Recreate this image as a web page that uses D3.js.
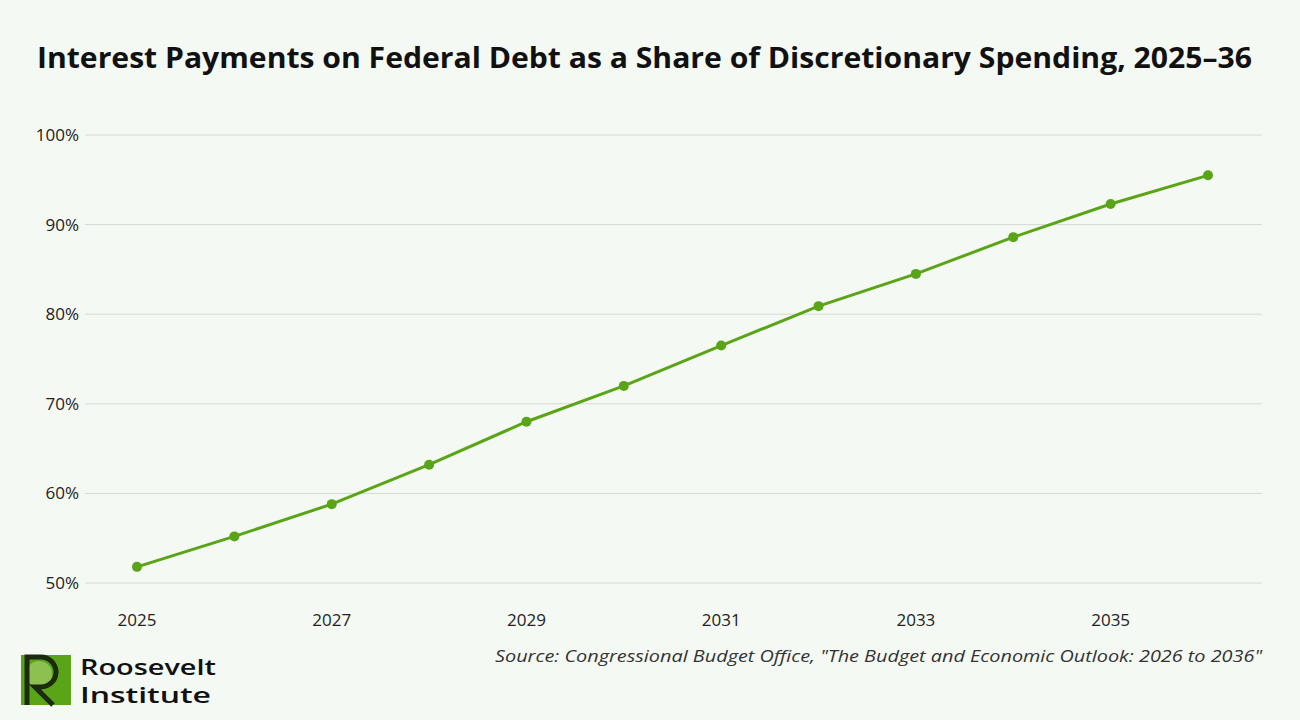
<!DOCTYPE html>
<html>
<head>
<meta charset="utf-8">
<script src="https://d3js.org/d3.v7.min.js"></script>
<style>
  body { margin: 0; background: #f5f9f3; font-family: "Open Sans", Lato, sans-serif; }
</style>
</head>
<body>
<div id="chart"></div>
<script>
const years = [2025, 2026, 2027, 2028, 2029, 2030, 2031, 2032, 2033, 2034, 2035, 2036];
const shares = [51.8, 55.2, 58.8, 63.2, 68.0, 72.0, 76.5, 80.9, 84.5, 88.6, 92.3, 95.5];
const yTicks = [50, 60, 70, 80, 90, 100];
const xTicks = [2025, 2027, 2029, 2031, 2033, 2035];

const width = 1300, height = 720;
const green = "#5aa418";

const svg = d3.create("svg").attr("width", width).attr("height", height)
  .style("font-family", "'Open Sans', Lato, sans-serif");
svg.append("rect").attr("width", width).attr("height", height).attr("fill", "#f5f9f3");

// title
svg.append("text")
  .attr("x", 37).attr("y", 68)
  .attr("textLength", 1215).attr("lengthAdjust", "spacingAndGlyphs")
  .attr("font-size", 28).attr("font-weight", "bold").attr("fill", "#111")
  .text("Interest Payments on Federal Debt as a Share of Discretionary Spending, 2025\u201336");

const x = d3.scaleLinear().domain([2025, 2036]).range([137, 1208]);
const y = d3.scaleLinear().domain([50, 100]).range([583, 135]);

// gridlines
svg.append("g").selectAll("line").data(yTicks).join("line")
  .attr("x1", 85).attr("x2", 1262)
  .attr("y1", d => y(d)).attr("y2", d => y(d))
  .attr("stroke", "#d6d9d4").attr("stroke-width", 1);

// y axis labels
svg.append("g").selectAll("text").data(yTicks).join("text")
  .attr("x", 79).attr("y", d => y(d) + 6)
  .attr("text-anchor", "end").attr("font-size", 17).attr("fill", "#222")
  .text(d => d + "%");

// x axis labels
svg.append("g").selectAll("text").data(xTicks).join("text")
  .attr("x", d => x(d)).attr("y", 626)
  .attr("text-anchor", "middle").attr("font-size", 17).attr("fill", "#222")
  .text(d => d);

const data = years.map((yr, i) => ({ yr, v: shares[i] }));

svg.append("path").datum(data)
  .attr("fill", "none").attr("stroke", green).attr("stroke-width", 3)
  .attr("d", d3.line().x(d => x(d.yr)).y(d => y(d.v)));

svg.append("g").selectAll("circle").data(data).join("circle")
  .attr("cx", d => x(d.yr)).attr("cy", d => y(d.v))
  .attr("r", 5).attr("fill", green);

// source
svg.append("text")
  .attr("x", 495).attr("y", 662)
  .attr("textLength", 767).attr("lengthAdjust", "spacingAndGlyphs")
  .attr("font-size", 16).attr("font-style", "italic").attr("fill", "#333")
  .text("Source: Congressional Budget Office, \"The Budget and Economic Outlook: 2026 to 2036\"");

// logo
const logo = svg.append("g").attr("transform", "translate(21,655)");
logo.append("rect").attr("width", 50).attr("height", 50).attr("fill", "#5aa418");
logo.append("circle").attr("cx", 18).attr("cy", 19).attr("r", 13).attr("fill", "#8cc151");
logo.append("path")
  .attr("d", "M6,50 V2 H20 A14,14 0 0 1 20,32 H14 L32,50")
  .attr("fill", "none").attr("stroke", "#1c2b10").attr("stroke-width", 5);
logo.append("text").attr("x", 59).attr("y", 20)
  .attr("textLength", 136).attr("lengthAdjust", "spacingAndGlyphs")
  .attr("font-size", 22).attr("font-weight", 600).attr("fill", "#111").text("Roosevelt");
logo.append("text").attr("x", 59).attr("y", 48)
  .attr("textLength", 131).attr("lengthAdjust", "spacingAndGlyphs")
  .attr("font-size", 22).attr("font-weight", 600).attr("fill", "#111").text("Institute");

document.getElementById("chart").appendChild(svg.node());
</script>
</body>
</html>
